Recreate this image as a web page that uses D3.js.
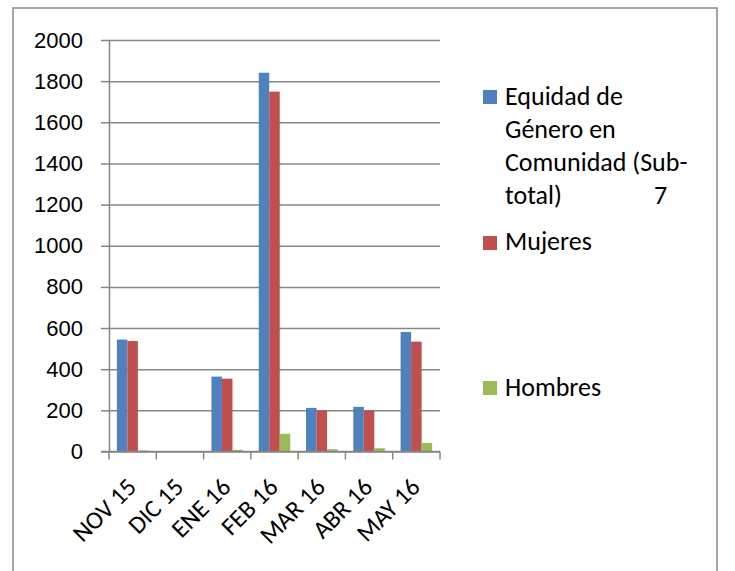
<!DOCTYPE html>
<html>
<head>
<meta charset="utf-8">
<script src="https://cdn.jsdelivr.net/npm/d3@7"></script>
<style>
  body { margin: 0; background: #fff; }
  svg { display: block; font-family: Carlito, Lato, "Open Sans", sans-serif; }
  .grid line { stroke: #868686; stroke-width: 1.5; }
  .grid .domain { display: none; }
  .axis text { fill: #000; }
  .y.axis text { font-size: 22px; }
  .x.axis text { font-size: 25px; }
  .axis .domain, .axis line { stroke: #868686; stroke-width: 1.5; }
</style>
</head>
<body>
<svg id="chart" width="735" height="571"></svg>
<script>
// Months on the x axis
const months = ["NOV 15", "DIC 15", "ENE 16", "FEB 16", "MAR 16", "ABR 16", "MAY 16"];

// Series
const seriesNames = ["Equidad", "Mujeres", "Hombres"];
const equidad = [544, 0, 364, 1841, 212, 217, 581];
const mujeres = [537, 0, 354, 1749, 199, 200, 534];
const hombres = [5, 0, 8, 86, 11, 16, 42];

const yTicks = [0, 200, 400, 600, 800, 1000, 1200, 1400, 1600, 1800, 2000];
const colors = ["#4F81BD", "#C0504D", "#9BBB59"];

const data = months.map((m, i) => ({
  month: m,
  values: [equidad[i], mujeres[i], hombres[i]],
}));

const svg = d3.select("#chart");

// Outer chart-area border
svg.append("rect")
  .attr("x", 13).attr("y", 8)
  .attr("width", 704).attr("height", 600)
  .attr("fill", "none")
  .attr("stroke", "#898989")
  .attr("stroke-width", 1.5);

const plot = { left: 109, right: 440, top: 40, bottom: 451.5 };

const x0 = d3.scaleBand()
  .domain(months)
  .range([plot.left, plot.right])
  .padding(0);

// Excel-style 150% gap width: group gap = 1.5 bar widths
const x1 = d3.scaleBand()
  .domain(seriesNames)
  .range([0, x0.bandwidth()])
  .paddingInner(0)
  .paddingOuter(0.75);

const y = d3.scaleLinear()
  .domain([0, 2000])
  .range([plot.bottom, plot.top]);

// Grid lines
svg.append("g")
  .attr("class", "grid")
  .attr("transform", `translate(${plot.left},0)`)
  .call(d3.axisLeft(y).tickValues(yTicks).tickSize(-(plot.right - plot.left)).tickFormat(""));

// Bars
svg.append("g")
  .selectAll("g")
  .data(data)
  .join("g")
  .attr("transform", (d) => `translate(${x0(d.month)},0)`)
  .selectAll("rect")
  .data((d) => d.values.map((v, k) => ({ key: seriesNames[k], value: v, k })))
  .join("rect")
  .attr("x", (d) => x1(d.key))
  .attr("width", x1.bandwidth())
  .attr("y", (d) => y(d.value))
  .attr("height", (d) => plot.bottom - y(d.value))
  .attr("fill", (d) => colors[d.k]);

// Y axis
svg.append("g")
  .attr("class", "y axis")
  .attr("transform", `translate(${plot.left},0)`)
  .call(d3.axisLeft(y).tickValues(yTicks).tickFormat(d3.format("d"))
    .tickSize(8).tickPadding(18).tickSizeOuter(0));

// X axis: ticks at category boundaries, labels rotated
const gx = svg.append("g")
  .attr("class", "x axis")
  .attr("transform", `translate(0,${plot.bottom})`);

gx.append("line")
  .attr("class", "domain")
  .attr("x1", plot.left - 8).attr("x2", plot.right);

const bounds = months.map((m) => x0(m)).concat([plot.right]);
gx.selectAll("line.tick")
  .data(bounds)
  .join("line")
  .attr("class", "tick")
  .attr("x1", (d) => d).attr("x2", (d) => d)
  .attr("y1", 0).attr("y2", 8);

gx.selectAll("text")
  .data(months)
  .join("text")
  .attr("text-anchor", "end")
  .attr("transform", (d) => `translate(${x0(d) + x0.bandwidth() / 2 + 5},${37}) rotate(-45)`)
  .text((d) => d);

// Legend
const legend = svg.append("g").attr("font-size", 26);
const legendItems = [
  { lines: ["Equidad de", "Género en", "Comunidad (Sub-", "total)"], baseline: 105, box: 90 },
  { lines: ["Mujeres"], baseline: 250, box: 236 },
  { lines: ["Hombres"], baseline: 396, box: 381 },
];

legendItems.forEach((item, i) => {
  legend.append("rect")
    .attr("x", 483).attr("y", item.box)
    .attr("width", 14).attr("height", 14)
    .attr("fill", colors[i]);
  const t = legend.append("text").attr("fill", "#000");
  item.lines.forEach((line, j) => {
    t.append("tspan")
      .attr("x", 505)
      .attr("y", item.baseline + j * 33)
      .text(line);
  });
});

// trailing "7" of the justified legend line
legend.append("text")
  .attr("x", 654).attr("y", 105 + 3 * 33)
  .attr("fill", "#000")
  .text("7");
</script>
</body>
</html>
